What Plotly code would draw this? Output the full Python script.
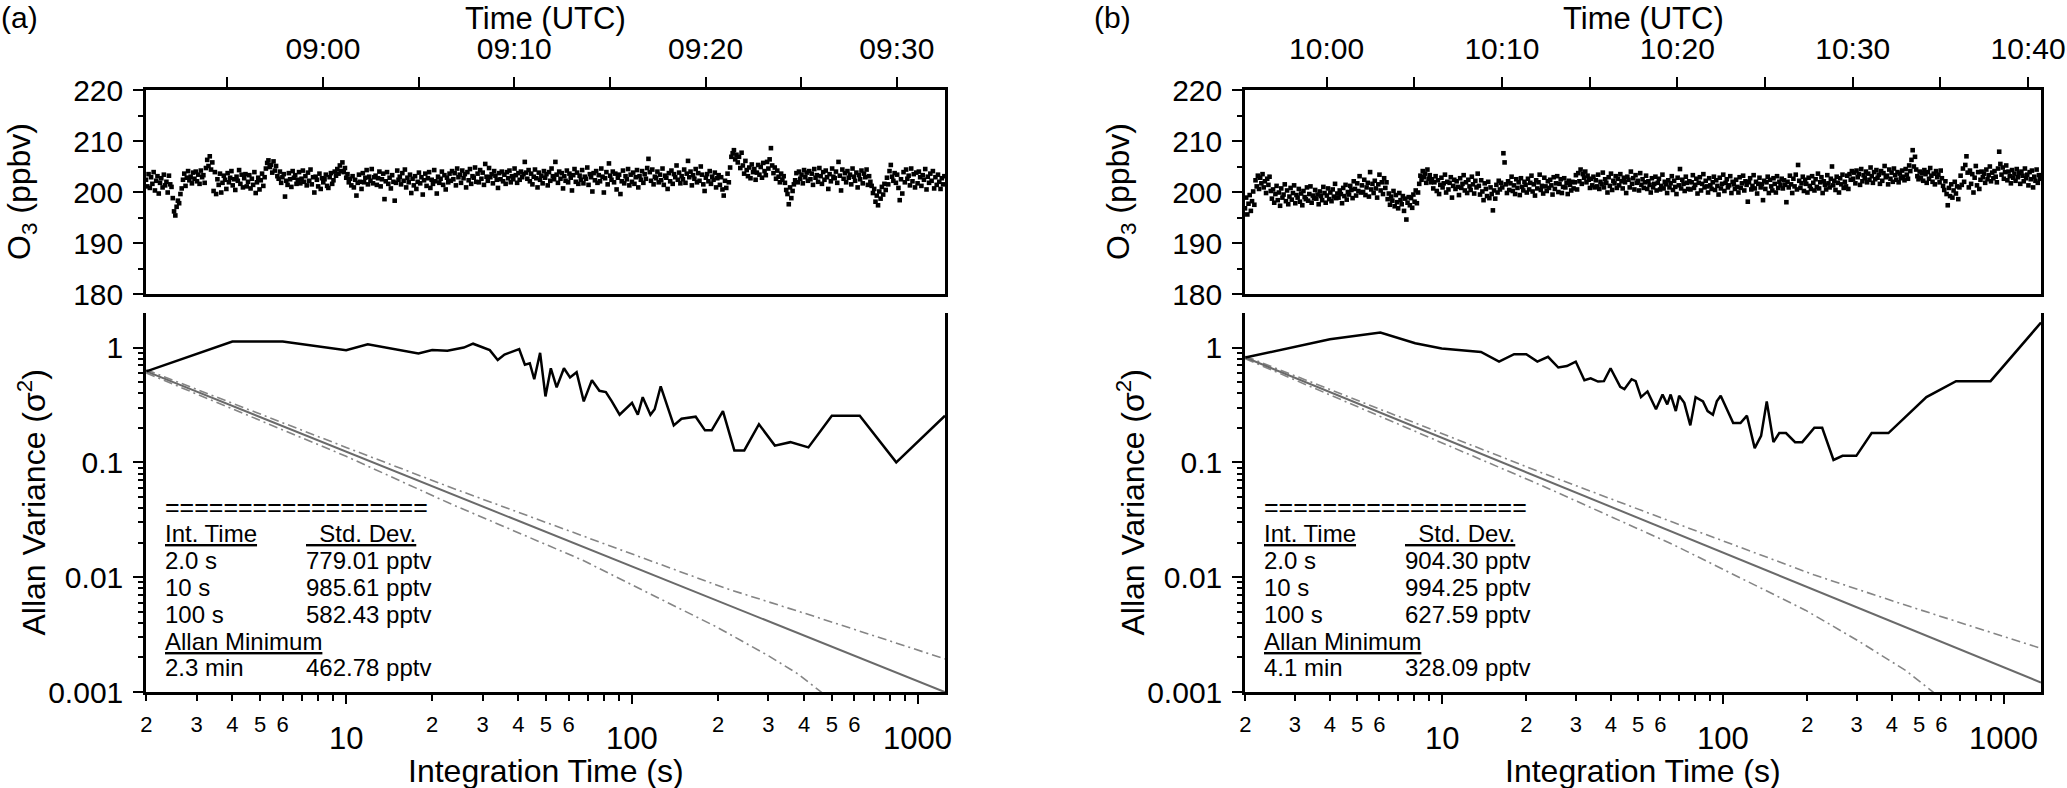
import numpy as np
import pandas as pd
import plotly.graph_objects as go

# ---------------- data ----------------
# (a) O3 time series, one reading every 4 s starting 08:50:45 UTC
o3_a = [
    202.4, 201.1, 203.5, 200.8, 202.9, 201.6, 203.9, 200.3, 202.2, 203.1, 199.7, 201.8, 202.7, 200.9, 203.4, 201.3, 202.0, 199.9, 203.2, 201.5,
    201.0, 198.8, 196.2, 195.4, 197.1, 198.3, 197.8, 199.6, 200.7, 202.4, 203.6, 201.2, 202.8, 204.1, 202.3, 203.0, 201.7, 203.8, 202.6, 204.0,
    202.1, 203.4, 201.6, 204.2, 202.9, 203.3, 201.8, 204.7, 206.3, 205.1, 207.0, 204.4, 205.8, 200.2, 203.9, 199.6, 202.5, 201.4, 203.6, 199.9,
    201.8, 203.2, 202.4, 200.6, 203.7, 201.9, 202.8, 204.1, 201.3, 202.5, 200.4, 203.0, 202.2, 204.3, 201.6, 203.4, 200.9, 202.7, 203.5, 201.1,
    202.0, 203.3, 200.7, 202.6, 201.4, 203.9, 199.8, 201.9, 202.8, 200.5, 202.3, 203.6, 201.2, 202.9, 204.6, 205.7, 206.2, 204.9, 205.3, 203.8,
    206.0, 204.2, 205.1, 203.1, 202.6, 204.0, 201.8, 202.9, 203.5, 199.1, 202.2, 201.4, 203.7, 202.5, 201.0, 204.1, 202.8, 203.3, 201.6, 202.4,
    203.9, 201.7, 202.6, 204.2, 202.0, 203.1, 201.3, 203.8, 202.2, 204.4, 201.5, 202.9, 199.9, 203.0, 202.4, 201.1, 203.6, 200.6, 202.7, 201.9,
    202.5, 203.4, 201.2, 200.8, 202.9, 203.7, 201.6, 202.3, 204.0, 203.2, 204.5, 203.6, 205.2, 204.1, 205.8, 203.9, 204.7, 202.8, 203.5, 201.9,
    202.6, 201.3, 203.1, 200.9, 202.4, 199.3, 201.8, 203.4, 202.0, 200.6, 203.7, 201.9, 202.8, 204.3, 201.5, 203.0, 202.2, 204.5, 201.7, 202.9,
    203.2, 201.4, 202.7, 204.0, 201.1, 202.5, 203.6, 198.6, 202.1, 203.9, 201.6, 202.8, 200.7, 203.3, 202.0, 198.3, 201.8, 204.2, 202.4, 203.0,
    201.5, 203.7, 202.2, 204.4, 200.9, 202.8, 201.9, 203.4, 199.8, 202.6, 201.3, 203.1, 200.6, 202.0, 203.8, 201.7, 202.9, 199.5, 202.3, 203.6,
    201.2, 202.7, 203.9, 200.8, 202.4, 201.6, 204.3, 202.1, 199.7, 203.0, 201.8, 202.6, 204.0, 201.4, 203.3, 200.5, 202.8, 201.9, 203.6, 202.2,
    204.1, 202.5, 203.7, 201.3, 204.6, 202.9, 203.4, 201.8, 204.2, 202.7, 203.5, 200.9, 203.9, 202.3, 204.5, 201.6, 203.1, 202.8, 204.8, 202.0,
    203.6, 201.9, 204.3, 202.6, 203.8, 201.4, 205.5, 203.0, 202.2, 204.7, 202.9, 203.5, 201.7, 204.1, 203.2, 202.4, 200.8, 203.7, 202.5, 204.0,
    202.1, 203.4, 201.6, 203.9, 202.7, 204.2, 201.9, 203.1, 202.5, 204.6, 203.3, 201.8, 203.7, 202.4, 204.0, 202.9, 203.5, 205.9, 203.8, 202.6,
    204.3, 202.1, 203.6, 201.5, 203.0, 204.4, 202.7, 200.9, 203.8, 202.4, 203.2, 201.7, 204.1, 202.8, 203.5, 201.3, 203.9, 202.2, 204.6, 203.1,
    202.5, 205.9, 203.4, 201.8, 204.0, 202.6, 203.7, 200.7, 203.1, 202.2, 204.2, 201.9, 203.6, 202.8, 200.3, 203.3, 204.5, 202.0, 203.8, 201.6,
    203.2, 202.4, 204.3, 201.7, 203.0, 202.6, 204.8, 201.4, 203.5, 202.9, 200.1, 203.7, 202.3, 204.1, 201.8, 203.3, 202.1, 204.6, 203.0, 199.9,
    202.7, 203.9, 201.5, 205.6, 203.2, 202.4, 204.0, 201.9, 203.6, 200.5, 202.8, 203.4, 199.6, 202.1, 204.2, 201.7, 203.1, 202.5, 204.5, 201.3,
    203.4, 202.0, 203.8, 201.6, 202.9, 204.3, 200.9, 203.1, 202.4, 204.1, 201.8, 203.5, 202.6, 204.7, 206.5, 203.9, 202.2, 204.4, 201.5, 203.0,
    202.7, 204.0, 201.9, 203.4, 202.3, 204.6, 201.4, 203.2, 202.8, 200.6, 203.7, 202.1, 204.2, 201.6, 203.5, 202.9, 205.2, 202.4, 203.8, 201.7,
    203.1, 202.5, 204.4, 201.8, 203.6, 206.1, 202.9, 204.0, 201.3, 203.3, 202.6, 204.5, 201.9, 203.7, 202.2, 205.0, 203.4, 201.5, 200.2, 202.8,
    203.5, 202.1, 204.1, 201.6, 203.0, 202.4, 203.8, 200.9, 202.7, 203.3, 201.4, 202.9, 200.5, 199.3, 202.2, 200.8, 203.6, 201.9, 204.8, 206.9,
    207.6, 208.2, 206.4, 207.3, 205.8, 206.9, 204.7, 207.7, 205.2, 203.6, 206.1, 204.3, 203.1, 204.8, 202.7, 205.4, 203.9, 204.5, 202.4, 203.8,
    205.3, 203.4, 204.9, 202.8, 205.7, 204.1, 203.3, 205.9, 204.6, 206.4, 208.6, 205.2, 203.7, 204.8, 202.6, 204.2, 203.0, 201.9, 203.6, 202.4,
    203.1, 201.8, 200.4, 199.6, 197.6, 200.9, 198.8, 200.2, 201.5, 202.3, 203.7, 201.9, 204.0, 202.6, 203.4, 201.7, 204.3, 202.9, 203.8, 202.2,
    204.1, 202.5, 203.6, 201.4, 204.5, 202.8, 203.3, 202.0, 204.7, 203.1, 201.6, 203.9, 202.4, 204.2, 202.9, 200.6, 203.5, 202.1, 204.6, 203.0,
    202.7, 204.0, 201.8, 205.9, 203.2, 200.3, 204.4, 202.6, 203.7, 201.9, 204.1, 202.8, 203.4, 201.5, 204.6, 203.0, 202.2, 203.8, 200.9, 203.3,
    202.5, 204.2, 201.7, 203.6, 202.9, 204.4, 201.4, 203.1, 202.0, 201.2, 199.8, 200.6, 198.1, 199.3, 197.4, 200.1, 198.7, 201.0, 199.5, 201.6,
    200.4, 202.8, 201.5, 204.1, 205.3, 203.0, 202.2, 203.7, 201.8, 203.4, 200.8, 198.4, 202.5, 199.7, 203.9, 201.9, 204.4, 202.6, 203.2, 201.3,
    204.6, 202.1, 203.5, 200.9, 203.8, 201.7, 204.0, 202.9, 201.2, 203.3, 202.4, 204.5, 200.5, 203.0, 201.8, 203.6, 202.2, 204.1, 200.7, 202.9,
    201.4, 203.4, 202.0, 200.6, 202.7, 201.5, 203.1,
]

# (b) O3 time series, one reading every 4 s starting 09:55:21 UTC
o3_b = [
    196.8, 198.9, 195.6, 197.7, 199.4, 196.3, 198.2, 200.1, 197.5, 202.3, 201.1, 203.2, 200.6, 202.8, 201.7, 203.5, 200.9, 202.1, 199.8, 202.6,
    201.4, 203.0, 200.2, 198.7, 200.5, 197.9, 199.6, 201.2, 198.4, 199.9, 197.3, 200.7, 198.9, 199.5, 201.5, 198.2, 200.3, 197.6, 199.1, 200.8,
    198.5, 199.8, 201.3, 197.8, 199.4, 198.9, 200.6, 198.1, 199.7, 197.4, 200.2, 199.0, 198.6, 200.9, 198.3, 199.6, 201.1, 197.9, 199.3, 198.8,
    200.4, 198.7, 199.5, 197.6, 200.1, 199.2, 198.4, 201.0, 199.8, 197.9, 199.3, 200.7, 198.6, 199.9, 198.2, 200.5, 199.1, 201.6, 198.8, 199.7,
    198.9, 200.3, 199.6, 197.8, 200.8, 199.2, 201.4, 198.5, 200.0, 199.5, 201.2, 200.4, 198.8, 202.1, 200.6, 199.3, 201.7, 200.2, 203.1, 199.9,
    201.3, 200.0, 202.4, 199.4, 200.9, 201.8, 199.1, 203.9, 200.5, 201.6, 199.8, 202.2, 200.7, 198.9, 201.5, 203.4, 200.3, 201.9, 199.6, 202.7,
    200.8, 201.9, 198.6, 199.7, 197.5, 199.1, 198.3, 200.2, 197.2, 199.4, 198.0, 196.8, 199.8, 198.4, 197.6, 199.2, 196.3, 198.7, 194.6, 197.9,
    199.0, 197.4, 198.8, 196.9, 199.5, 198.1, 200.3, 197.8, 199.9, 201.6, 203.2, 202.4, 204.1, 202.9, 203.6, 201.8, 204.4, 202.6, 203.3, 201.9,
    202.5, 200.7, 201.9, 203.1, 200.2, 202.3, 199.6, 201.4, 202.8, 200.9, 201.7, 203.4, 199.9, 202.0, 200.5, 201.8, 202.9, 198.9, 201.2, 202.4,
    200.6, 202.1, 201.0, 199.4, 202.7, 200.8, 201.6, 203.3, 200.3, 201.9, 199.8, 202.4, 201.1, 200.4, 203.0, 201.5, 199.7, 202.2, 200.9, 203.6,
    201.2, 199.5, 202.3, 200.1, 198.4, 201.7, 200.6, 199.2, 202.0, 198.8, 200.9, 199.6, 196.4, 200.3, 198.7, 201.4, 199.9, 202.2, 200.5, 201.8,
    200.9, 207.6, 205.8, 201.5, 199.8, 202.1, 200.4, 201.7, 203.0, 200.2, 201.3, 199.6, 202.5, 200.8, 201.9, 199.4, 202.7, 201.0, 200.3, 202.0,
    201.4, 199.9, 202.6, 200.5, 201.8, 203.2, 200.1, 201.5, 199.3, 202.3, 200.7, 201.9, 203.4, 200.4, 201.2, 199.7, 202.8, 201.1, 200.2, 202.1,
    200.8, 202.4, 201.3, 199.5, 202.9, 200.6, 201.7, 203.1, 200.0, 201.6, 202.5, 199.8, 201.0, 202.7, 200.9, 201.8, 199.6, 202.2, 201.4, 200.3,
    202.0, 200.7, 201.9, 203.3, 200.5, 203.7, 202.1, 204.4, 201.6, 203.5, 202.8, 204.0, 201.9, 203.2, 202.4, 200.8, 202.6, 201.3, 203.0, 200.9,
    202.3, 201.1, 203.4, 200.6, 202.0, 201.5, 203.8, 200.9, 202.5, 201.8, 199.9, 202.9, 201.2, 203.6, 200.4, 202.2, 201.7, 203.1, 200.8, 202.6,
    201.3, 203.5, 202.1, 200.7, 202.8, 201.9, 199.8, 203.0, 202.4, 200.9, 204.0, 201.6, 202.7, 200.5, 203.3, 201.8, 202.2, 200.3, 203.7, 201.4,
    202.5, 200.8, 201.9, 203.2, 200.6, 202.1, 201.4, 199.9, 202.7, 200.9, 201.6, 203.0, 200.3, 201.8, 202.6, 200.5, 201.2, 203.4, 200.7, 202.0,
    201.5, 199.8, 202.3, 200.9, 201.7, 203.1, 200.4, 202.2, 201.0, 199.6, 202.8, 201.3, 204.5, 200.7, 202.4, 201.6, 200.2, 203.0, 201.8, 200.6,
    202.1, 200.5, 201.9, 203.3, 200.8, 201.4, 202.6, 199.7, 201.8, 202.9, 200.3, 201.6, 203.5, 200.9, 202.2, 201.1, 199.9, 202.7, 201.3, 200.6,
    201.9, 203.0, 200.4, 202.3, 201.2, 199.5, 202.8, 200.7, 201.6, 203.4, 200.2, 201.8, 202.5, 200.9, 201.3, 203.1, 199.8, 202.0, 201.5, 200.6,
    202.4, 201.0, 199.9, 202.9, 200.8, 201.7, 203.2, 200.3, 202.1, 201.4, 198.1, 201.9, 202.7, 200.5, 201.2, 203.3, 200.7, 202.0, 199.7, 201.6,
    202.8, 200.9, 201.5, 198.4, 202.2, 200.6, 201.9, 203.0, 199.8, 202.4, 201.1, 200.3, 202.7, 201.6, 199.9, 203.1, 200.8, 202.0, 201.3, 202.6,
    200.7, 202.3, 201.4, 198.0, 202.0, 200.9, 203.2, 201.5, 199.8, 202.6, 201.1, 203.4, 200.5, 205.3, 202.2, 200.8, 201.7, 203.0, 200.2, 202.4,
    201.6, 199.9, 202.8, 201.2, 200.6, 203.1, 201.8, 200.3, 202.5, 201.0, 203.6, 200.7, 201.9, 202.9, 199.8, 202.1, 201.4, 200.5, 203.3, 201.7,
    200.9, 202.6, 205.0, 201.3, 202.2, 200.4, 203.0, 201.8, 199.9, 202.7, 201.5, 203.4, 200.8, 202.0, 201.1, 203.2, 200.6, 203.5, 202.4, 204.1,
    202.6, 203.8, 201.7, 204.2, 202.9, 203.5, 201.4, 204.5, 202.1, 203.3, 202.7, 204.0, 201.9, 203.6, 202.4, 204.8, 203.1, 201.8, 203.9, 202.5,
    204.3, 202.8, 203.4, 201.6, 204.1, 202.2, 203.7, 205.1, 202.9, 203.2, 201.5, 204.4, 202.6, 203.8, 202.0, 204.6, 203.3, 202.4, 203.9, 201.9,
    203.6, 202.7, 204.2, 203.0, 202.3, 204.5, 203.4, 202.6, 205.2, 204.1, 206.3, 208.2, 205.0, 206.9, 204.4, 203.1, 202.5, 204.0, 202.8, 203.7,
    202.2, 204.3, 203.5, 201.8, 203.9, 202.6, 204.7, 203.2, 202.0, 203.6, 201.5, 204.1, 202.9, 203.4, 201.9, 204.2, 202.7, 201.2, 200.4, 202.1,
    199.6, 197.4, 200.8, 199.2, 201.5, 198.9, 200.3, 202.0, 199.7, 201.1, 198.6, 200.9, 203.2, 201.4, 204.6, 202.0, 205.3, 207.0, 203.8, 200.9,
    204.2, 201.6, 203.5, 199.9, 202.8, 205.1, 201.3, 203.9, 200.6, 202.4, 204.0, 202.9, 203.6, 201.8, 204.4, 202.5, 203.3, 205.0, 202.1, 203.8,
    202.7, 204.1, 203.0, 201.9, 204.6, 207.9, 205.5, 203.4, 204.8, 202.6, 203.9, 205.2, 202.3, 204.0, 203.1, 201.7, 204.3, 202.8, 203.6, 202.2,
    204.5, 202.9, 203.7, 201.6, 204.0, 203.2, 202.1, 204.6, 202.7, 203.4, 201.3, 203.9, 202.5, 204.2, 200.9, 203.0, 202.2, 204.4, 201.8, 203.3,
    202.6,
]

# Allan variance curves
tau_a = [2, 4, 6, 10, 11.9, 14.7, 17.9, 20, 22.6, 25.8, 27.8, 31.8, 33.9, 35.8, 40.3, 42.2, 43.9, 45.5, 47.7, 49.8,
         52, 54.5, 57.8, 60.7, 64, 67.8, 72.4, 76.9, 81, 85, 90.5, 100, 104.8, 109, 116, 120, 126, 140, 149, 167,
         180, 190, 208, 228, 247, 278, 316, 358, 414, 500, 626, 840, 1244]
avar_a = [0.62, 1.13, 1.13, 0.95, 1.07, 0.97, 0.89, 0.95, 0.94, 1.0, 1.08, 0.95, 0.78, 0.87, 0.97, 0.71, 0.73, 0.53, 0.9, 0.375,
          0.66, 0.45, 0.66, 0.55, 0.61, 0.34, 0.52, 0.42, 0.41, 0.34, 0.26, 0.33, 0.26, 0.37, 0.26, 0.29, 0.46, 0.21, 0.24, 0.25,
          0.19, 0.19, 0.28, 0.127, 0.127, 0.215, 0.14, 0.15, 0.135, 0.255, 0.255, 0.1, 0.255]
tau_b = [2, 4, 6.05, 8.05, 10, 13.8, 16, 18.1, 20, 21.9, 23.9, 26, 27.9, 30, 32.2, 33.9, 36, 37.8, 39.9, 43.2,
         44.7, 47.4, 49, 51.2, 54, 57.9, 61.1, 63.5, 65.3, 68.1, 70, 73, 76.7, 80.1, 85.1, 88.4, 92.3, 95.3, 98.4, 103.8,
         109, 115.7, 122, 130, 137, 143.5, 151.6, 159, 168, 181, 192, 212, 226, 248, 267, 299, 339, 389, 531, 677,
         898, 1358]
avar_b = [0.82, 1.18, 1.35, 1.09, 0.98, 0.917, 0.755, 0.875, 0.875, 0.755, 0.83, 0.67, 0.69, 0.755, 0.52, 0.54, 0.506, 0.51, 0.66, 0.455,
          0.434, 0.53, 0.51, 0.37, 0.415, 0.29, 0.39, 0.32, 0.39, 0.28, 0.38, 0.33, 0.21, 0.37, 0.34, 0.28, 0.26, 0.34, 0.38, 0.285,
          0.22, 0.22, 0.255, 0.133, 0.17, 0.34, 0.15, 0.18, 0.18, 0.15, 0.15, 0.2, 0.2, 0.105, 0.114, 0.114, 0.18, 0.18, 0.37, 0.51,
          0.51, 1.65]

# white-noise reference line and its confidence bounds
ref_a_tau = [2, 1244]
ref_a = [0.62, 0.000997]
up_a_tau = [2, 5, 10, 23, 67, 211, 441, 1244]
up_a = [0.64, 0.263, 0.135, 0.061, 0.0231, 0.00805, 0.0045, 0.00194]
lo_a_tau = [2, 5, 10, 23, 67, 197, 300, 380, 459, 490]
lo_a = [0.60, 0.233, 0.113, 0.044, 0.0141, 0.0037, 0.00207, 0.00144, 0.001, 0.00085]

ref_b_tau = [2, 1358]
ref_b = [0.82, 0.00121]
up_b_tau = [2, 5, 10, 23, 67, 211, 441, 1358]
up_b = [0.84, 0.347, 0.178, 0.0802, 0.0299, 0.0105, 0.00577, 0.0024]
lo_b_tau = [2, 5, 10, 23, 67, 100, 197, 300, 450, 561, 600]
lo_b = [0.80, 0.308, 0.150, 0.062, 0.0191, 0.0118, 0.00516, 0.00284, 0.00153, 0.001, 0.00082]

# statistics tables
stats_a = [("2.0 s", "779.01 pptv"), ("10 s", "985.61 pptv"), ("100 s", "582.43 pptv")]
min_a = ("2.3 min", "462.78 pptv")
stats_b = [("2.0 s", "904.30 pptv"), ("10 s", "994.25 pptv"), ("100 s", "627.59 pptv")]
min_b = ("4.1 min", "328.09 pptv")

time_a = pd.date_range("2014-01-01 08:50:45", periods=len(o3_a), freq="4s")
time_b = pd.date_range("2014-01-01 09:55:21", periods=len(o3_b), freq="4s")

# ---------------- layout helpers ----------------
W, H = 2067, 788
FONT = "Liberation Sans, Arial, Helvetica, sans-serif"


def fx(x):
    return x / W


def fy(y):
    return 1 - y / H


panels = [
    dict(left=146, right=945, t0="2014-01-01 08:50:45", t1="2014-01-01 09:32:31", tmax=1244,
         letter="(a)", letter_x=0, time=time_a, o3=o3_a, tau=tau_a, avar=avar_a,
         ref=(ref_a_tau, ref_a), up=(up_a_tau, up_a), lo=(lo_a_tau, lo_a), stats=stats_a, amin=min_a),
    dict(left=1245, right=2041, t0="2014-01-01 09:55:21", t1="2014-01-01 10:40:44", tmax=1358,
         letter="(b)", letter_x=1093, time=time_b, o3=o3_b, tau=tau_b, avar=avar_b,
         ref=(ref_b_tau, ref_b), up=(up_b_tau, up_b), lo=(lo_b_tau, lo_b), stats=stats_b, amin=min_b),
]

TOP = (90, 294)
BOT = (313, 692)

fig = go.Figure()
annotations = []
layout = {}

y_minor = [k * 10 ** e for e in (-3, -2, -1, 0) for k in range(2, 10) if k * 10 ** e < 2]

for n, p in enumerate(panels):
    xt, yt = f"x{3 * n + 1}", f"y{2 * n + 1}"
    xb, yb = f"x{3 * n + 2}", f"y{2 * n + 2}"
    xd = f"x{3 * n + 3}"  # overlay axis carrying only the long decade ticks
    dom = [fx(p["left"]), fx(p["right"])]
    cx = (p["left"] + p["right"]) / 2
    xrange_log = [np.log10(1.995), np.log10(p["tmax"])]

    fig.add_trace(go.Scatter(x=p["time"], y=p["o3"], mode="markers", xaxis=xt, yaxis=yt,
                             marker=dict(symbol="square", size=4.6, color="black", line=dict(width=0))))

    fig.add_trace(go.Scatter(x=p["lo"][0], y=p["lo"][1], mode="lines", xaxis=xb, yaxis=yb,
                             line=dict(color="#858585", width=1.6, dash="9px,4px,2px,4px")))
    fig.add_trace(go.Scatter(x=p["up"][0], y=p["up"][1], mode="lines", xaxis=xb, yaxis=yb,
                             line=dict(color="#858585", width=1.6, dash="9px,4px,2px,4px")))
    fig.add_trace(go.Scatter(x=p["ref"][0], y=p["ref"][1], mode="lines", xaxis=xb, yaxis=yb,
                             line=dict(color="#6a6a6a", width=2)))
    fig.add_trace(go.Scatter(x=p["tau"], y=p["avar"], mode="lines", xaxis=xb, yaxis=yb,
                             line=dict(color="black", width=2.5)))
    fig.add_trace(go.Scatter(x=[], y=[], mode="lines", xaxis=xd, yaxis=yb, hoverinfo="skip"))

    tick_common = dict(ticks="outside", tickcolor="black", tickwidth=2, showgrid=False,
                       zeroline=False, showline=True, linecolor="black", linewidth=2.5,
                       automargin=False, tickfont=dict(family=FONT, size=30, color="black"))

    # time-series panel
    layout[f"xaxis{3 * n + 1}"] = dict(
        tick_common, domain=dom, anchor=yt, side="top", type="date", range=[p["t0"], p["t1"]],
        tickmode="linear", tick0="2014-01-01 09:00:00", dtick=600000, tickformat="%H:%M",
        ticklen=10, mirror=True, ticklabelstandoff=6,
        minor=dict(ticks="outside", tickmode="linear", tick0="2014-01-01 09:00:00", dtick=300000,
                   ticklen=10, tickwidth=2, tickcolor="black"))
    layout[f"yaxis{2 * n + 1}"] = dict(
        tick_common, domain=[fy(TOP[1]), fy(TOP[0])], anchor=xt, range=[180, 220],
        tickmode="linear", tick0=180, dtick=10, ticklen=10, mirror=True, ticklabelstandoff=4,
        minor=dict(ticks="outside", tickmode="linear", tick0=185, dtick=10, ticklen=5,
                   tickwidth=2, tickcolor="black"))

    # Allan variance panel: 2..6 labelled, 7..9 unlabelled, decades long (overlay axis)
    lab_ticks = [k * 10 ** e for e in (0, 1, 2) for k in range(2, 7) if k * 10 ** e <= p["tmax"]]
    unl_ticks = [k * 10 ** e for e in (0, 1, 2) for k in range(7, 10) if k * 10 ** e <= p["tmax"]]
    layout[f"xaxis{3 * n + 2}"] = dict(
        tick_common, domain=dom, anchor=yb, type="log", range=xrange_log,
        tickmode="array", tickvals=lab_ticks, ticktext=[str(v)[0] for v in lab_ticks],
        ticklen=6, ticklabelstandoff=5, tickfont=dict(family=FONT, size=22, color="black"),
        minor=dict(ticks="outside", tickmode="array", tickvals=unl_ticks, ticklen=6,
                   tickwidth=2, tickcolor="black"))
    layout[f"xaxis{3 * n + 3}"] = dict(
        domain=dom, anchor=yb, overlaying=xb, type="log", range=xrange_log, showline=False,
        showgrid=False, zeroline=False, automargin=False, showticklabels=False,
        tickmode="array", tickvals=[10, 100, 1000], ticks="outside", ticklen=11,
        tickwidth=2, tickcolor="black")
    layout[f"yaxis{2 * n + 2}"] = dict(
        tick_common, domain=[fy(BOT[1]), fy(BOT[0])], anchor=xb, type="log",
        range=[-3, np.log10(2)], tickmode="array", tickvals=[0.001, 0.01, 0.1, 1],
        ticktext=["0.001", "0.01", "0.1", "1"], ticklen=10, mirror=True, ticklabelstandoff=4,
        minor=dict(ticks="outside", tickmode="array", tickvals=y_minor, ticklen=5,
                   tickwidth=2, tickcolor="black"))

    # decade labels under the log axis
    for dec in (10, 100, 1000):
        annotations.append(dict(x=np.log10(dec), xref=xb, y=fy(738), yref="paper", text=str(dec),
                                showarrow=False, font=dict(family=FONT, size=31, color="black")))

    # titles
    annotations += [
        dict(x=fx(cx), y=1, yanchor="top", borderpad=0, text="Time (UTC)", font=dict(family=FONT, size=31)),
        dict(x=fx(p["letter_x"]), y=1, yanchor="top", borderpad=0, text=p["letter"], xanchor="left",
             font=dict(family=FONT, size=30)),
        dict(x=fx(cx), y=fy(771), text="Integration Time (s)", font=dict(family=FONT, size=32)),
        dict(x=fx(p["left"] - 125), y=fy((TOP[0] + TOP[1]) / 2), text="O<sub>3</sub> (ppbv)",
             textangle=-90, font=dict(family=FONT, size=32)),
        dict(x=fx(p["left"] - 115), y=fy((BOT[0] + BOT[1]) / 2), text="Allan Variance (σ<sup>2</sup>)",
             textangle=-90, font=dict(family=FONT, size=32)),
    ]

    # statistics table
    c1, c2 = p["left"] + 17, p["left"] + 158
    rows = [("=" * 18, ""), ("<u>Int. Time</u>", "<u>\u00a0 Std. Dev.</u>")]
    rows += list(p["stats"])
    rows += [("<u>Allan Minimum</u>", ""), p["amin"]]
    for k, (left_txt, right_txt) in enumerate(rows):
        yy = fy(507 + 26.8 * k)
        annotations.append(dict(x=fx(c1), y=yy, text=left_txt, xanchor="left",
                                font=dict(family=FONT, size=25 if k == 0 else 24)))
        if right_txt:
            annotations.append(dict(x=fx(c2), y=yy, text=right_txt, xanchor="left",
                                    font=dict(family=FONT, size=24)))

for a in annotations:
    a.setdefault("xref", "paper")
    a.setdefault("yref", "paper")
    a.setdefault("showarrow", False)
    a.setdefault("yanchor", "middle")
    a.setdefault("xanchor", "center")
    a["font"].setdefault("color", "black")

fig.update_layout(
    width=W, height=H, margin=dict(l=0, r=0, t=0, b=0, autoexpand=False),
    paper_bgcolor="white", plot_bgcolor="white", showlegend=False,
    font=dict(family=FONT, color="black"),
    annotations=annotations, **layout,
)

# page body margin off, so the 2067x788 figure fills the window exactly
fig.write_html("out.html", config={"displayModeBar": False},
               post_script="document.body.style.margin='0';")
